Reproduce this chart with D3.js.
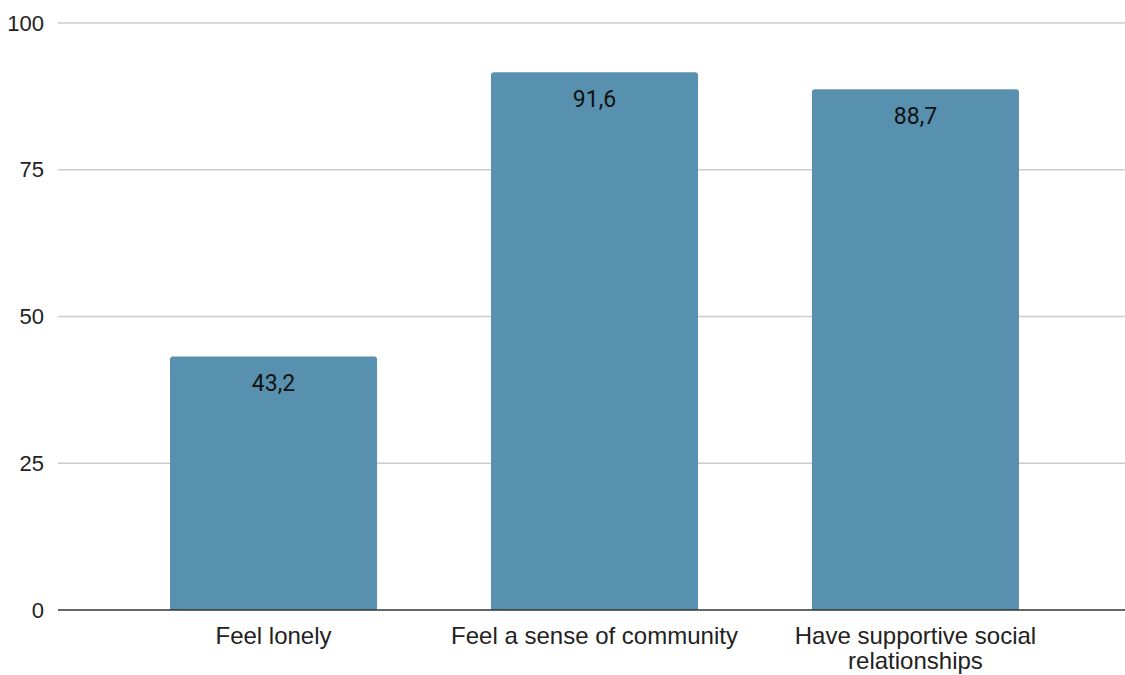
<!DOCTYPE html>
<html>
<head>
<meta charset="utf-8">
<script src="https://cdn.jsdelivr.net/npm/d3@7"></script>
<style>
  body { margin: 0; background: #fff; }
  svg { display: block; }
</style>
</head>
<body>
<svg id="chart" width="1125" height="675"></svg>
<script>
// chart data
var categories = ["Feel lonely", "Feel a sense of community", "Have supportive social relationships"];
var values = [43.2, 91.6, 88.7];
var yTicks = [0, 25, 50, 75, 100];

var plotLeft = 58, plotRight = 1125, plotTop = 23, plotBottom = 610;

var svg = d3.select("#chart");

var x = d3.scaleBand()
	.domain(categories)
	.range([plotLeft, plotRight + 6])
	.paddingInner(0.355)
	.paddingOuter(0.349);

var y = d3.scaleLinear()
	.domain([0, 100])
	.range([plotBottom, plotTop]);

// gridlines
svg.append("g")
	.selectAll("line")
	.data(yTicks.filter(function(d) { return d > 0; }))
	.join("line")
	.attr("x1", plotLeft)
	.attr("x2", plotRight)
	.attr("y1", function(d) { return y(d); })
	.attr("y2", function(d) { return y(d); })
	.attr("stroke", "#cccccc")
	.attr("stroke-width", 1.5);

// y labels
svg.append("g")
	.selectAll("text")
	.data(yTicks)
	.join("text")
	.attr("x", 44)
	.attr("y", function(d) { return y(d); })
	.attr("dy", "0.35em")
	.attr("text-anchor", "end")
	.attr("font-family", "Liberation Sans, Arial, sans-serif")
	.attr("font-size", 22)
	.attr("fill", "#222")
	.text(function(d) { return d; });

// bars, only top corners rounded
var r = 3;
function barPath(d, i) {
	var x0 = x(categories[i]), w = x.bandwidth(), y0 = y(d), y1 = y(0);
	return "M" + x0 + "," + y1 +
		"L" + x0 + "," + (y0 + r) +
		"Q" + x0 + "," + y0 + " " + (x0 + r) + "," + y0 +
		"L" + (x0 + w - r) + "," + y0 +
		"Q" + (x0 + w) + "," + y0 + " " + (x0 + w) + "," + (y0 + r) +
		"L" + (x0 + w) + "," + y1 + "Z";
}

svg.append("g")
	.selectAll("path")
	.data(values)
	.join("path")
	.attr("d", barPath)
	.attr("fill", "#5891af");

// value labels
svg.append("g")
	.selectAll("text")
	.data(values)
	.join("text")
	.attr("x", function(d, i) { return x(categories[i]) + x.bandwidth() / 2; })
	.attr("y", function(d) { return y(d) + 34.5; })
	.attr("text-anchor", "middle")
	.attr("font-family", "Roboto, sans-serif")
	.attr("font-size", 23)
	.attr("fill", "#111")
	.text(function(d) { return String(d).replace(".", ","); });

// baseline
svg.append("line")
	.attr("x1", plotLeft)
	.attr("x2", plotRight)
	.attr("y1", y(0))
	.attr("y2", y(0))
	.attr("stroke", "#333")
	.attr("stroke-width", 1.5);

// x labels, wrapped
var xLabelLines = [["Feel lonely"], ["Feel a sense of community"], ["Have supportive social", "relationships"]];
var xl = svg.append("g")
	.selectAll("text")
	.data(categories)
	.join("text")
	.attr("x", function(d) { return x(d) + x.bandwidth() / 2; })
	.attr("y", 644)
	.attr("text-anchor", "middle")
	.attr("font-family", "Liberation Sans, Arial, sans-serif")
	.attr("font-size", 24)
	.attr("fill", "#222");

xl.each(function(d, i) {
	var t = d3.select(this);
	xLabelLines[i].forEach(function(line, j) {
		t.append("tspan")
			.attr("x", x(d) + x.bandwidth() / 2)
			.attr("dy", j == 0 ? 0 : 25)
			.text(line);
	});
});
</script>
</body>
</html>
